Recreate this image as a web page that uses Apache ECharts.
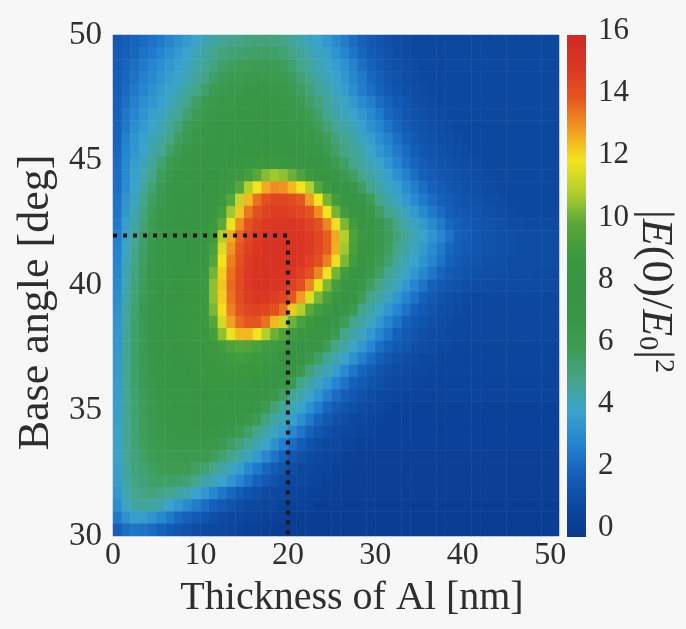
<!DOCTYPE html>
<html>
<head>
<meta charset="utf-8">
<title>Field enhancement map</title>
<script src="https://cdn.jsdelivr.net/npm/echarts@6/dist/echarts.min.js"></script>
<style>
  html, body { margin: 0; padding: 0; background: #f7f7f7; }
  #chart { width: 686px; height: 629px; }
</style>
</head>
<body>
<div id="chart"></div>
<script>
// Al thickness columns (nm) and base-angle rows (deg)
const thicknessNm = [0,1,2,3,4,5,6,7,8,9,10,11,12,13,14,15,16,17,18,19,20,21,22,23,24,25,
  26,27,28,29,30,31,32,33,34,35,36,37,38,39,40,41,42,43,44,45,46,47,48,49,50];
const baseAngleDeg = [30,30.5,31,31.5,32,32.5,33,33.5,34,34.5,35,35.5,36,36.5,37,37.5,38,38.5,
  39,39.5,40,40.5,41,41.5,42,42.5,43,43.5,44,44.5,45,45.5,46,46.5,47,47.5,48,48.5,49,49.5,50];

// |E(0)/E0|^2, one row per base angle, from 50 deg (first) down to 30 deg (last),
// one value per thickness from 0 nm to 50 nm
const fieldRows = [
"1.7 1.9 2.1 2.3 2.5 2.7 3.0 3.4 3.7 4.0 4.3 4.6 4.8 5.0 5.1 5.2 5.3 5.3 5.2 5.1 4.8 4.5 4.2 4.0 3.6 3.2 2.8 2.4 2.0 1.7 1.5 1.3 1.2 1.1 1.0 1.0 1.0 1.0 1.0 1.0 1.0 1.0 1.0 1.0 1.0 1.0 1.0 1.0 1.0 1.0 1.0",
"1.8 2.0 2.2 2.5 2.7 3.0 3.4 3.7 4.0 4.3 4.6 5.0 5.2 5.4 5.5 5.6 5.7 5.7 5.6 5.4 5.1 4.8 4.5 4.2 3.9 3.5 3.0 2.6 2.2 1.8 1.6 1.4 1.2 1.1 1.0 1.0 1.0 1.0 1.0 1.0 1.0 1.0 1.0 1.0 1.0 1.0 1.0 1.0 1.0 1.0 1.0",
"1.8 2.1 2.4 2.7 3.0 3.3 3.6 3.9 4.2 4.5 4.8 5.2 5.6 5.8 6.0 6.1 6.2 6.2 6.1 5.9 5.5 5.0 4.7 4.4 4.1 3.8 3.4 2.9 2.4 2.0 1.7 1.5 1.3 1.2 1.1 1.0 1.0 1.0 1.0 1.0 1.0 1.0 1.0 1.0 1.0 1.0 1.0 1.0 1.0 1.0 1.0",
"1.9 2.2 2.5 2.9 3.2 3.5 3.8 4.1 4.4 4.7 5.1 5.6 6.0 6.2 6.3 6.4 6.5 6.5 6.4 6.2 5.9 5.4 5.0 4.6 4.3 4.0 3.6 3.1 2.7 2.2 1.9 1.6 1.4 1.2 1.1 1.0 1.0 1.0 1.0 1.0 1.0 1.0 1.0 1.0 1.0 1.0 1.0 1.0 1.0 1.0 1.0",
"1.9 2.3 2.7 3.0 3.4 3.7 4.0 4.3 4.7 5.0 5.6 6.1 6.4 6.6 6.7 6.8 6.8 6.8 6.7 6.5 6.2 5.8 5.3 4.8 4.5 4.2 3.8 3.3 2.8 2.4 2.0 1.7 1.5 1.3 1.2 1.1 1.0 1.0 1.0 1.0 1.0 1.0 1.0 1.0 1.0 1.0 1.0 1.0 1.0 1.0 1.0",
"2.0 2.4 2.9 3.3 3.6 3.9 4.2 4.6 5.0 5.7 6.2 6.5 6.8 6.9 7.0 7.1 7.1 7.1 7.0 6.8 6.6 6.2 5.7 5.2 4.8 4.4 4.1 3.7 3.2 2.8 2.3 2.0 1.7 1.5 1.3 1.2 1.1 1.0 1.0 1.0 1.0 1.0 1.0 1.0 1.0 1.0 1.0 1.0 1.0 1.0 1.0",
"2.0 2.6 3.0 3.5 3.9 4.2 4.5 4.9 5.5 6.1 6.5 6.8 7.1 7.2 7.3 7.3 7.3 7.3 7.2 7.1 6.9 6.5 6.1 5.6 5.0 4.6 4.3 4.0 3.6 3.1 2.7 2.2 1.9 1.6 1.4 1.3 1.2 1.1 1.0 1.0 1.0 1.0 1.0 1.0 1.0 1.0 1.0 1.0 1.0 1.0 1.0",
"2.1 2.7 3.3 3.7 4.0 4.4 4.8 5.3 6.0 6.5 6.9 7.1 7.3 7.4 7.5 7.5 7.6 7.6 7.5 7.4 7.2 6.9 6.5 6.0 5.4 4.9 4.6 4.3 3.9 3.4 3.0 2.5 2.1 1.8 1.5 1.4 1.3 1.2 1.1 1.0 1.0 1.0 1.0 1.0 1.0 1.0 1.0 1.0 1.0 1.0 1.0",
"2.1 2.9 3.5 3.9 4.3 4.7 5.0 5.8 6.4 6.8 7.1 7.3 7.5 7.6 7.7 7.8 7.8 7.8 7.8 7.7 7.5 7.2 6.9 6.4 5.9 5.3 4.9 4.6 4.2 3.8 3.3 2.9 2.4 2.0 1.7 1.5 1.4 1.3 1.2 1.1 1.0 1.0 1.0 1.0 1.0 1.0 1.0 1.0 1.0 1.0 1.0",
"2.2 3.0 3.6 4.0 4.5 4.9 5.6 6.3 6.8 7.1 7.4 7.6 7.7 7.8 7.9 8.0 8.1 8.1 8.1 8.0 7.8 7.5 7.2 6.8 6.3 5.7 5.1 4.8 4.5 4.1 3.6 3.2 2.7 2.3 1.9 1.6 1.5 1.4 1.3 1.2 1.1 1.0 1.0 1.0 1.0 1.0 1.0 1.0 1.0 1.0 1.0",
"2.3 3.1 3.8 4.3 4.8 5.5 6.2 6.7 7.1 7.4 7.6 7.8 7.9 8.1 8.3 8.5 8.6 8.7 8.7 8.6 8.4 8.1 7.7 7.3 6.8 6.3 5.7 5.0 4.7 4.3 4.0 3.5 3.0 2.5 2.1 1.8 1.6 1.5 1.4 1.3 1.2 1.1 1.0 1.0 1.0 1.0 1.0 1.0 1.0 1.0 1.0",
"2.3 3.2 3.9 4.5 5.0 5.9 6.6 7.0 7.3 7.6 7.8 8.0 8.2 8.5 8.9 9.3 9.9 10.5 10.8 10.6 10.2 9.6 9.0 8.3 7.6 7.0 6.4 5.8 5.0 4.7 4.3 3.9 3.4 2.9 2.4 2.0 1.8 1.6 1.5 1.4 1.3 1.2 1.1 1.0 1.0 1.0 1.0 1.0 1.0 1.0 1.0",
"2.4 3.3 4.0 4.7 5.4 6.2 6.8 7.2 7.5 7.7 7.9 8.2 8.5 9.0 9.8 11.0 12.0 12.8 13.2 13.1 12.6 12.0 11.0 9.8 8.8 8.0 7.3 6.6 5.8 5.0 4.6 4.2 3.8 3.3 2.8 2.4 2.0 1.8 1.6 1.5 1.4 1.3 1.2 1.1 1.0 1.0 1.0 1.0 1.0 1.0 1.0",
"2.5 3.5 4.2 5.0 5.8 6.5 7.0 7.4 7.6 7.8 8.1 8.4 8.9 9.8 11.3 12.6 13.6 14.2 14.5 14.5 14.3 14.0 13.0 12.0 10.3 9.2 8.3 7.6 6.8 6.0 5.0 4.6 4.2 3.7 3.2 2.7 2.3 2.0 1.8 1.6 1.5 1.4 1.3 1.2 1.1 1.0 1.0 1.0 1.0 1.0 1.0",
"2.6 3.6 4.4 5.2 6.0 6.6 7.1 7.5 7.7 7.9 8.2 8.6 9.3 10.8 12.4 13.5 14.2 14.6 14.8 14.8 14.7 14.5 14.1 13.2 12.0 10.3 9.2 8.3 7.5 6.7 5.8 5.0 4.6 4.2 3.7 3.2 2.7 2.3 1.9 1.7 1.6 1.5 1.4 1.3 1.2 1.1 1.0 1.0 1.0 1.0 1.0",
"2.7 3.8 4.6 5.4 6.2 6.8 7.2 7.6 7.8 8.0 8.3 8.8 10.0 11.9 13.2 14.1 14.6 14.9 15.0 15.0 15.0 14.9 14.6 14.2 13.3 12.1 10.4 9.2 8.2 7.4 6.6 5.8 5.0 4.6 4.2 3.7 3.2 2.7 2.2 1.9 1.7 1.6 1.5 1.4 1.3 1.2 1.2 1.1 1.1 1.1 1.1",
"2.8 3.9 4.8 5.6 6.4 6.9 7.3 7.7 7.9 8.1 8.4 9.0 11.0 12.8 13.8 14.5 14.9 15.1 15.2 15.2 15.2 15.1 14.9 14.5 13.9 12.8 11.0 9.6 8.5 7.6 6.8 6.0 5.3 4.8 4.4 4.0 3.5 3.0 2.5 2.0 1.8 1.6 1.5 1.4 1.3 1.3 1.2 1.2 1.2 1.2 1.2",
"2.9 4.1 5.0 5.7 6.5 7.0 7.4 7.8 8.0 8.2 8.5 9.4 11.6 13.1 14.0 14.6 15.0 15.2 15.3 15.3 15.2 15.1 14.9 14.5 13.9 12.7 10.8 9.4 8.3 7.4 6.6 5.8 5.0 4.6 4.2 3.7 3.2 2.7 2.2 1.9 1.7 1.6 1.5 1.4 1.3 1.3 1.2 1.2 1.2 1.2 1.2",
"3.0 4.2 5.1 5.8 6.6 7.1 7.5 7.8 8.0 8.2 8.6 9.8 12.0 13.4 14.2 14.8 15.1 15.3 15.3 15.3 15.2 15.0 14.7 14.2 13.4 12.1 10.4 9.2 8.1 7.2 6.3 5.5 4.8 4.4 4.0 3.5 3.0 2.5 2.0 1.8 1.6 1.5 1.4 1.3 1.3 1.2 1.2 1.2 1.2 1.2 1.2",
"3.1 4.3 5.2 5.9 6.7 7.2 7.6 7.9 8.1 8.3 8.7 10.3 12.3 13.6 14.4 14.9 15.2 15.3 15.3 15.2 15.0 14.7 14.2 13.3 11.9 10.3 9.2 8.3 7.5 6.6 5.7 4.9 4.5 4.1 3.6 3.1 2.6 2.1 1.8 1.6 1.5 1.4 1.3 1.3 1.2 1.2 1.2 1.2 1.1 1.1 1.1",
"3.2 4.4 5.3 6.0 6.8 7.3 7.7 8.0 8.2 8.4 8.8 10.6 12.4 13.7 14.4 14.9 15.2 15.3 15.2 15.0 14.7 14.2 13.3 11.9 10.4 9.3 8.4 7.6 6.7 5.8 5.0 4.6 4.2 3.6 3.0 2.5 2.0 1.7 1.5 1.4 1.3 1.2 1.2 1.1 1.1 1.1 1.1 1.1 1.1 1.1 1.1",
"3.3 4.5 5.4 6.1 6.9 7.4 7.8 8.1 8.3 8.5 8.9 10.6 12.3 13.6 14.3 14.8 15.0 15.0 14.8 14.5 14.0 13.0 11.7 10.4 9.4 8.6 7.8 7.0 6.0 5.0 4.6 4.2 3.6 3.0 2.5 2.0 1.7 1.5 1.3 1.2 1.1 1.0 1.0 1.0 1.0 1.0 1.0 1.0 1.0 1.0 1.0",
"3.4 4.6 5.5 6.2 7.0 7.5 7.9 8.2 8.4 8.6 9.0 10.4 12.1 13.4 14.1 14.5 14.6 14.5 14.2 13.6 12.4 11.0 10.0 9.2 8.5 7.8 7.1 6.3 5.0 4.6 4.1 3.6 3.0 2.5 2.0 1.7 1.5 1.3 1.2 1.1 1.0 0.9 0.9 0.9 0.9 0.9 0.9 0.9 0.9 0.9 0.9",
"3.5 4.7 5.6 6.3 7.0 7.5 7.9 8.2 8.4 8.6 8.9 9.8 11.5 12.9 13.7 14.0 14.0 13.6 12.6 11.3 10.2 9.4 8.8 8.2 7.5 6.8 6.0 5.0 4.6 4.2 3.6 3.0 2.5 2.0 1.7 1.5 1.3 1.2 1.1 1.0 0.9 0.9 0.9 0.9 0.9 0.9 0.9 0.9 0.9 0.9 0.9",
"3.6 4.7 5.6 6.3 7.0 7.5 7.8 8.1 8.3 8.5 8.7 9.3 10.6 11.9 12.6 12.6 12.0 11.0 10.2 9.6 9.1 8.7 8.3 7.7 7.0 6.2 5.0 4.6 4.2 3.6 3.0 2.5 2.0 1.7 1.5 1.3 1.2 1.1 1.0 0.9 0.9 0.9 0.9 0.9 0.9 0.9 0.9 0.9 0.9 0.9 0.9",
"3.6 4.8 5.6 6.3 7.0 7.4 7.7 8.0 8.2 8.4 8.6 8.9 9.2 9.6 9.8 9.7 9.4 9.1 9.0 8.7 8.4 8.0 7.6 7.0 6.0 5.0 4.6 4.1 3.6 3.0 2.4 2.0 1.7 1.5 1.3 1.2 1.1 1.0 0.9 0.8 0.8 0.8 0.8 0.8 0.8 0.8 0.8 0.8 0.8 0.8 0.8",
"3.7 4.8 5.6 6.3 6.9 7.3 7.6 7.9 8.1 8.3 8.5 8.7 8.9 9.1 9.2 9.1 9.0 8.8 8.5 8.2 7.9 7.4 6.7 5.7 4.8 4.4 4.0 3.4 2.8 2.3 1.9 1.6 1.4 1.2 1.1 1.0 0.9 0.8 0.8 0.8 0.8 0.8 0.8 0.8 0.8 0.8 0.8 0.8 0.8 0.8 0.8",
"3.7 4.8 5.6 6.2 6.8 7.2 7.5 7.8 8.0 8.2 8.3 8.5 8.6 8.7 8.7 8.7 8.6 8.4 8.1 7.7 7.2 6.4 5.3 4.7 4.3 3.8 3.2 2.6 2.1 1.8 1.5 1.3 1.2 1.1 1.0 0.9 0.8 0.8 0.8 0.8 0.8 0.8 0.8 0.8 0.8 0.8 0.8 0.8 0.8 0.8 0.8",
"3.8 4.8 5.6 6.2 6.7 7.1 7.4 7.7 7.9 8.0 8.1 8.2 8.3 8.3 8.3 8.2 8.0 7.8 7.5 7.0 6.2 5.0 4.6 4.2 3.6 3.0 2.5 2.0 1.7 1.5 1.3 1.1 1.0 0.9 0.8 0.7 0.7 0.7 0.7 0.7 0.7 0.7 0.7 0.7 0.7 0.7 0.7 0.7 0.7 0.7 0.7",
"3.8 4.8 5.5 6.1 6.6 7.0 7.3 7.5 7.7 7.8 7.9 8.0 8.0 8.0 7.9 7.7 7.5 7.1 6.6 5.8 4.9 4.5 4.1 3.5 2.9 2.3 1.9 1.6 1.4 1.2 1.0 0.9 0.8 0.7 0.7 0.7 0.7 0.7 0.7 0.7 0.7 0.7 0.7 0.7 0.7 0.7 0.7 0.7 0.7 0.7 0.7",
"3.9 4.8 5.5 6.0 6.5 6.9 7.2 7.4 7.5 7.6 7.7 7.7 7.7 7.6 7.5 7.2 6.8 6.2 5.4 4.8 4.4 4.0 3.4 2.8 2.2 1.8 1.5 1.3 1.1 1.0 0.9 0.8 0.6 0.6 0.6 0.6 0.6 0.6 0.6 0.6 0.6 0.6 0.6 0.6 0.6 0.6 0.6 0.6 0.6 0.6 0.6",
"3.9 4.8 5.4 5.9 6.4 6.8 7.0 7.2 7.3 7.4 7.4 7.4 7.3 7.2 6.9 6.5 5.9 5.2 4.7 4.3 3.9 3.3 2.7 2.1 1.7 1.4 1.2 1.0 0.9 0.8 0.7 0.6 0.6 0.6 0.6 0.6 0.6 0.6 0.6 0.6 0.6 0.6 0.6 0.6 0.6 0.6 0.6 0.6 0.6 0.6 0.6",
"4.0 4.8 5.4 5.9 6.3 6.6 6.8 7.0 7.1 7.1 7.1 7.0 6.9 6.6 6.2 5.6 5.0 4.6 4.2 3.7 3.1 2.5 2.0 1.6 1.3 1.1 1.0 0.9 0.8 0.7 0.6 0.5 0.5 0.5 0.5 0.5 0.5 0.5 0.5 0.5 0.5 0.5 0.5 0.5 0.5 0.5 0.5 0.5 0.5 0.5 0.5",
"4.0 4.8 5.4 5.8 6.2 6.4 6.6 6.7 6.8 6.8 6.7 6.5 6.2 5.8 5.3 4.8 4.4 4.0 3.4 2.8 2.3 1.8 1.5 1.2 1.0 0.9 0.8 0.7 0.6 0.6 0.5 0.5 0.5 0.5 0.5 0.5 0.5 0.5 0.5 0.5 0.5 0.5 0.5 0.5 0.5 0.5 0.5 0.5 0.5 0.5 0.5",
"4.0 4.8 5.3 5.7 6.0 6.2 6.4 6.5 6.5 6.4 6.2 5.9 5.5 5.0 4.6 4.2 3.7 3.1 2.5 2.0 1.6 1.3 1.1 0.9 0.8 0.7 0.6 0.5 0.4 0.4 0.4 0.4 0.4 0.4 0.4 0.4 0.4 0.4 0.4 0.4 0.4 0.4 0.4 0.4 0.4 0.4 0.4 0.4 0.4 0.4 0.4",
"3.9 4.7 5.2 5.5 5.8 6.0 6.1 6.1 6.0 5.8 5.5 5.0 4.6 4.2 3.8 3.2 2.7 2.2 1.8 1.5 1.2 1.0 0.9 0.8 0.7 0.6 0.5 0.4 0.4 0.4 0.4 0.4 0.4 0.4 0.4 0.4 0.4 0.4 0.4 0.4 0.4 0.4 0.4 0.4 0.4 0.4 0.4 0.4 0.4 0.4 0.4",
"3.8 4.6 5.1 5.4 5.6 5.7 5.7 5.6 5.4 5.0 4.6 4.3 4.0 3.5 3.0 2.5 2.0 1.7 1.4 1.2 1.0 0.9 0.8 0.7 0.6 0.5 0.4 0.4 0.4 0.4 0.4 0.4 0.4 0.4 0.4 0.4 0.4 0.4 0.4 0.4 0.4 0.4 0.4 0.4 0.4 0.4 0.4 0.4 0.4 0.4 0.4",
"3.6 4.4 4.9 5.1 5.2 5.1 5.0 4.7 4.4 4.0 3.6 3.1 2.6 2.2 1.8 1.5 1.3 1.1 1.0 0.9 0.8 0.7 0.6 0.5 0.5 0.4 0.4 0.4 0.4 0.4 0.4 0.4 0.4 0.4 0.4 0.4 0.4 0.4 0.4 0.4 0.4 0.4 0.4 0.4 0.4 0.4 0.4 0.4 0.4 0.4 0.4",
"3.3 4.1 4.6 4.8 4.7 4.4 4.0 3.6 3.2 2.8 2.4 2.0 1.7 1.4 1.2 1.0 0.9 0.8 0.7 0.6 0.5 0.4 0.4 0.3 0.3 0.3 0.3 0.3 0.3 0.3 0.3 0.3 0.3 0.3 0.3 0.3 0.3 0.3 0.3 0.3 0.3 0.3 0.3 0.3 0.3 0.3 0.3 0.3 0.3 0.3 0.3",
"2.7 3.4 3.8 3.8 3.5 3.1 2.7 2.3 2.0 1.7 1.5 1.3 1.1 1.0 0.9 0.8 0.7 0.6 0.5 0.4 0.3 0.3 0.3 0.3 0.3 0.3 0.3 0.3 0.3 0.3 0.3 0.3 0.3 0.3 0.3 0.3 0.3 0.3 0.3 0.3 0.3 0.3 0.3 0.3 0.3 0.3 0.3 0.3 0.3 0.3 0.3",
"1.9 2.4 2.6 2.5 2.3 2.0 1.8 1.6 1.4 1.2 1.1 1.0 0.9 0.8 0.7 0.6 0.5 0.4 0.3 0.3 0.3 0.3 0.3 0.3 0.3 0.3 0.3 0.3 0.3 0.3 0.3 0.3 0.3 0.3 0.3 0.3 0.3 0.3 0.3 0.3 0.3 0.3 0.3 0.3 0.3 0.3 0.3 0.3 0.3 0.3 0.3"
];

// tick labels
const thicknessTicks = [0, 10, 20, 30, 40, 50];
const angleTicks = [30, 35, 40, 45, 50];
const colorScaleMin = 0;
const colorScaleMax = 16;
const colorScaleStep = 2;

// dotted guide marking the optimum (thickness, angle)
const optimumThickness = 20;
const optimumAngle = 42;

// jet-like palette, one colour per unit from 0 to 16
const palette = ['#093a90', '#0d489f', '#1560bb', '#2585d0', '#3aa3cc', '#45a58a', '#3d9c55',
  '#389646', '#379443', '#3c9a40', '#5aa83a', '#b2d02c', '#f4e41e', '#f09a22', '#e4561f',
  '#da3623', '#d02a26'];

const serif = "'Liberation Serif', 'Times New Roman', serif";
const ink = '#2e2e2e';

// cells: [thickness index, angle index, value]
const heatData = [];
fieldRows.forEach((row, r) => {
  const vals = row.trim().split(/\s+/).map(Number);
  const yi = baseAngleDeg.length - 1 - r;
  vals.forEach((v, xi) => heatData.push([xi, yi, v]));
});

// value axes used for the tick labels and the guide
const xAxisMin = thicknessNm[0];
const xAxisMax = thicknessNm[thicknessNm.length - 1] + 1;
const yAxisMin = angleTicks[0];
const yAxisMax = angleTicks[angleTicks.length - 1];

const guidePath = [
  [xAxisMin, optimumAngle],
  [optimumThickness, optimumAngle],
  [optimumThickness, yAxisMin]
];

const gradientStops = palette.map((c, i) => ({ offset: i / (palette.length - 1), color: c }));

const chart = echarts.init(document.getElementById('chart'), null, { renderer: 'canvas' });

chart.setOption({
  animation: false,
  backgroundColor: '#f7f7f7',
  textStyle: { fontFamily: serif, color: ink },
  grid: [
    { left: 113, top: 35, width: 446, height: 501 },   // map
    { left: 567, top: 35, width: 19, height: 502 },    // colour bar
    { left: 567, top: 31, width: 19, height: 497 }     // colour bar scale
  ],
  visualMap: {
    type: 'continuous',
    show: false,
    seriesIndex: 0,
    min: colorScaleMin,
    max: colorScaleMax,
    inRange: { color: palette }
  },
  xAxis: [
    { type: 'category', gridIndex: 0, data: thicknessNm, show: false },
    {
      type: 'value', gridIndex: 0, min: xAxisMin, max: xAxisMax, interval: 10,
      position: 'bottom',
      axisLine: { show: false }, axisTick: { show: false }, splitLine: { show: false },
      axisLabel: {
        fontSize: 32, fontFamily: serif, color: ink, margin: 4, showMaxLabel: false,
        formatter: v => (thicknessTicks.includes(v) ? String(v) : '')
      },
      name: 'Thickness of Al [nm]',
      nameLocation: 'middle',
      nameGap: 42,
      nameTextStyle: { fontSize: 40, fontFamily: serif, color: ink, padding: [0, 0, 0, 32] }
    },
    { type: 'category', gridIndex: 1, data: [''], show: false },
    { type: 'category', gridIndex: 2, data: [''], show: false }
  ],
  yAxis: [
    { type: 'category', gridIndex: 0, data: baseAngleDeg, show: false },
    {
      type: 'value', gridIndex: 0, min: yAxisMin, max: yAxisMax, interval: 5,
      position: 'left',
      axisLine: { show: false }, axisTick: { show: false }, splitLine: { show: false },
      axisLabel: {
        fontSize: 33, fontFamily: serif, color: ink, margin: 11,
        formatter: v => (angleTicks.includes(v) ? String(v) : '')
      },
      name: 'Base angle [deg]',
      nameLocation: 'middle',
      nameRotate: 90,
      nameGap: 50,
      nameTextStyle: { fontSize: 44, fontFamily: serif, color: ink, padding: [0, 34, 0, 0] }
    },
    { type: 'value', gridIndex: 1, min: colorScaleMin, max: colorScaleMax, show: false },
    {
      type: 'value', gridIndex: 2, min: colorScaleMin, max: colorScaleMax, interval: colorScaleStep,
      position: 'right',
      axisLine: { show: false }, axisTick: { show: false }, splitLine: { show: false },
      axisLabel: { fontSize: 31, fontFamily: serif, color: ink, margin: 12 },
      name: '{bar||}{it|E}{n|(0)/}{it|E}{sub|0}{bar||}{sup|2}',
      nameLocation: 'middle',
      nameRotate: -90,
      nameGap: 44,
      nameTextStyle: {
        fontSize: 44, fontFamily: serif, color: ink, padding: [0, 0, 0, 24],
        rich: {
          bar: { fontSize: 44, fontFamily: serif, color: ink },
          it: { fontSize: 44, fontFamily: serif, fontStyle: 'italic', color: ink },
          n: { fontSize: 44, fontFamily: serif, color: ink },
          sub: { fontSize: 28, fontFamily: serif, color: ink, verticalAlign: 'bottom', lineHeight: 44 },
          sup: { fontSize: 28, fontFamily: serif, color: ink, verticalAlign: 'top', lineHeight: 44 }
        }
      }
    }
  ],
  series: [
    {
      type: 'heatmap',
      xAxisIndex: 0,
      yAxisIndex: 0,
      data: heatData,
      progressive: 0,
      silent: true,
      emphasis: { disabled: true },
      itemStyle: { borderWidth: 0 }
    },
    {
      type: 'line',
      xAxisIndex: 1,
      yAxisIndex: 1,
      data: guidePath,
      showSymbol: false,
      symbol: 'none',
      silent: true,
      lineStyle: { color: '#151515', width: 4, type: [4, 6] },
      z: 5
    },
    {
      type: 'bar',
      xAxisIndex: 2,
      yAxisIndex: 2,
      data: [colorScaleMax],
      barWidth: '100%',
      silent: true,
      itemStyle: {
        color: { type: 'linear', x: 0, y: 1, x2: 0, y2: 0, colorStops: gradientStops }
      }
    },
    {
      type: 'scatter',
      xAxisIndex: 3,
      yAxisIndex: 3,
      data: [],
      silent: true
    }
  ]
});
</script>
</body>
</html>
